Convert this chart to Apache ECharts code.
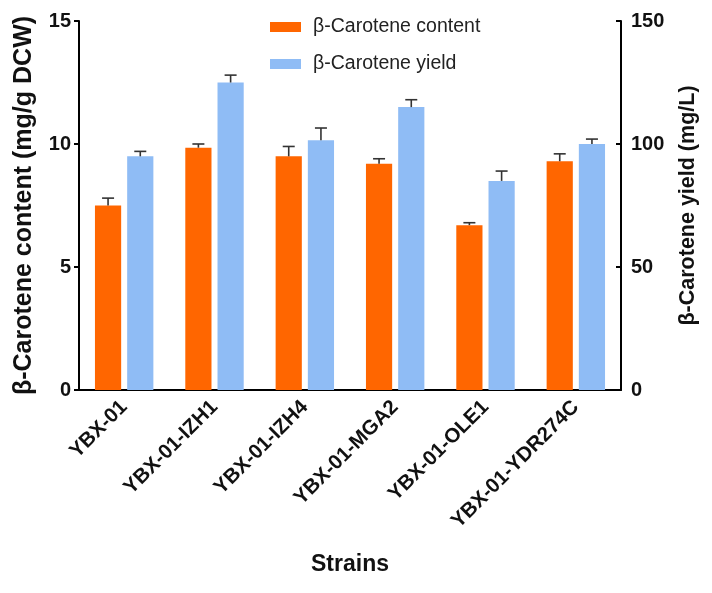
<!DOCTYPE html>
<html>
<head>
<meta charset="utf-8">
<script src="https://cdn.jsdelivr.net/npm/echarts@6/dist/echarts.min.js"></script>
<style>html,body{margin:0;padding:0;background:#fff}#c{width:712px;height:593px}</style>
</head>
<body>
<div id="c"></div>
<script>
const categories = ['YBX-01','YBX-01-IZH1','YBX-01-IZH4','YBX-01-MGA2','YBX-01-OLE1','YBX-01-YDR274C'];
const contentVals = [7.5, 9.85, 9.5, 9.2, 6.7, 9.3];
const contentErr = [0.3, 0.15, 0.4, 0.2, 0.1, 0.3];
const yieldVals = [95, 125, 101.5, 115, 85, 100];
const yieldErr = [2, 3, 5, 3, 4, 2];
const leftTicks = [0, 5, 10, 15];
const rightTicks = [0, 50, 100, 150];

const FONT = 'Liberation Sans, Arial, sans-serif';
const ORANGE = '#FF6600';
const BLUE = '#8FBCF5';
const BAR_W = 0.29, BAR_GAP = 0.23;

function errRender(side) {
  return function (params, api) {
    const idx = api.value(0), v = api.value(1), e = api.value(2);
    const band = api.size([1, 0])[0];
    const bw = band * BAR_W;
    const off = (bw + bw * BAR_GAP) / 2 * side;
    const p0 = api.coord([idx, v]);
    const p1 = api.coord([idx, v + e]);
    const x = p0[0] + off;
    const cap = 6;
    const st = {stroke: '#333', lineWidth: 1.6};
    return {type: 'group', children: [
      {type: 'line', shape: {x1: x, y1: p0[1], x2: x, y2: p1[1]}, style: st},
      {type: 'line', shape: {x1: x - cap, y1: p1[1], x2: x + cap, y2: p1[1]}, style: st}
    ]};
  };
}

const chart = echarts.init(document.getElementById('c'));
chart.setOption({
  animation: false,
  textStyle: {fontFamily: FONT},
  grid: {left: 79, right: 91, top: 21, bottom: 203},
  legend: {
    data: ['β-Carotene content', 'β-Carotene yield'],
    orient: 'vertical', left: 265, top: 12,
    itemWidth: 31, itemHeight: 10, itemGap: 17,
    icon: 'rect',
    textStyle: {fontSize: 19.5, color: '#222', fontFamily: FONT, padding: [0, 0, 0, 7]}
  },
  xAxis: {
    type: 'category', data: categories,
    axisLine: {lineStyle: {color: '#000', width: 2}},
    axisTick: {show: false},
    axisLabel: {rotate: 45, fontSize: 20.5, fontWeight: 'bold', color: '#111', margin: 14, interval: 0},
    name: 'Strains', nameLocation: 'middle', nameGap: 163,
    nameTextStyle: {fontSize: 23, fontWeight: 'bold', color: '#111'}
  },
  yAxis: [{
    type: 'value', min: 0, max: 15, interval: 5, position: 'left',
    axisLine: {show: true, lineStyle: {color: '#000', width: 2}},
    axisTick: {show: true, length: 5, lineStyle: {width: 2, color: '#000'}},
    splitLine: {show: false},
    axisLabel: {fontSize: 20, fontWeight: 'bold', color: '#111', margin: 8},
    name: 'β-Carotene content (mg/g DCW)', nameLocation: 'middle', nameGap: 42, nameRotate: 90,
    nameTextStyle: {fontSize: 25, fontWeight: 'bold', color: '#111'}
  }, {
    type: 'value', min: 0, max: 150, interval: 50, position: 'right',
    axisLine: {show: true, lineStyle: {color: '#000', width: 2}},
    axisTick: {show: true, inside: true, length: 5, lineStyle: {width: 2, color: '#000'}},
    splitLine: {show: false},
    axisLabel: {fontSize: 20, fontWeight: 'bold', color: '#111', margin: 10},
    name: 'β-Carotene yield (mg/L)', nameLocation: 'middle', nameGap: 56, nameRotate: 90,
    nameTextStyle: {fontSize: 21.5, fontWeight: 'bold', color: '#111'}
  }],
  series: [
    {name: 'β-Carotene content', type: 'bar', yAxisIndex: 0, data: contentVals,
     barWidth: (BAR_W * 100) + '%', barGap: (BAR_GAP * 100) + '%', itemStyle: {color: ORANGE}},
    {name: 'β-Carotene yield', type: 'bar', yAxisIndex: 1, data: yieldVals,
     barWidth: (BAR_W * 100) + '%', itemStyle: {color: BLUE}},
    {name: 'content-err', type: 'custom', yAxisIndex: 0, renderItem: errRender(-1),
     data: contentVals.map((v, i) => [i, v, contentErr[i]]), z: 3},
    {name: 'yield-err', type: 'custom', yAxisIndex: 1, renderItem: errRender(1),
     data: yieldVals.map((v, i) => [i, v, yieldErr[i]]), z: 3}
  ]
});
</script>
</body>
</html>
